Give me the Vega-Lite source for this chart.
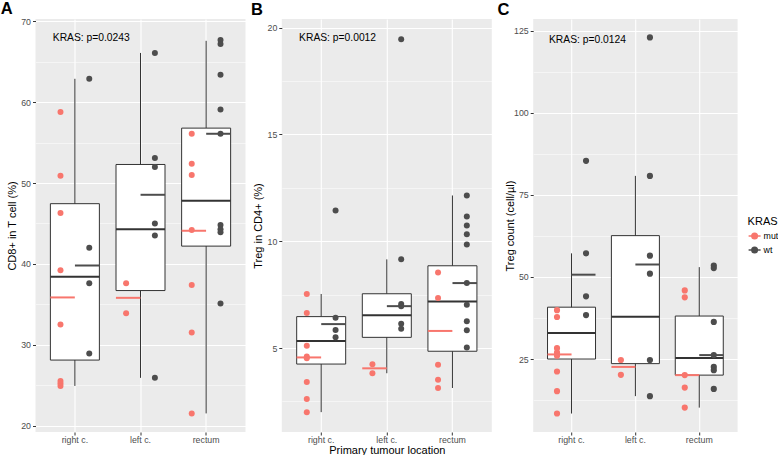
{
  "$schema": "https://vega.github.io/schema/vega-lite/v6.json",
  "padding": {"left": 0.5, "top": 0, "right": 0, "bottom": 0},
  "background": "white",
  "datasets": {
    "pts": [
      {"p":"A","loc":"right c.","KRAS":"mut","v":58.8},{"p":"A","loc":"right c.","KRAS":"mut","v":50.9},{"p":"A","loc":"right c.","KRAS":"mut","v":46.3},{"p":"A","loc":"right c.","KRAS":"mut","v":39.2},{"p":"A","loc":"right c.","KRAS":"mut","v":32.5},{"p":"A","loc":"right c.","KRAS":"mut","v":25.5},{"p":"A","loc":"right c.","KRAS":"mut","v":25.2},{"p":"A","loc":"right c.","KRAS":"mut","v":24.9},
      {"p":"A","loc":"right c.","KRAS":"wt","v":62.9},{"p":"A","loc":"right c.","KRAS":"wt","v":42.0},{"p":"A","loc":"right c.","KRAS":"wt","v":37.6},{"p":"A","loc":"right c.","KRAS":"wt","v":28.9},
      {"p":"A","loc":"left c.","KRAS":"mut","v":37.6},{"p":"A","loc":"left c.","KRAS":"mut","v":33.9},
      {"p":"A","loc":"left c.","KRAS":"wt","v":66.1},{"p":"A","loc":"left c.","KRAS":"wt","v":53.1},{"p":"A","loc":"left c.","KRAS":"wt","v":52.0},{"p":"A","loc":"left c.","KRAS":"wt","v":45.0},{"p":"A","loc":"left c.","KRAS":"wt","v":43.5},{"p":"A","loc":"left c.","KRAS":"wt","v":25.9},
      {"p":"A","loc":"rectum","KRAS":"mut","v":56.1},{"p":"A","loc":"rectum","KRAS":"mut","v":52.4},{"p":"A","loc":"rectum","KRAS":"mut","v":51.0},{"p":"A","loc":"rectum","KRAS":"mut","v":44.2},{"p":"A","loc":"rectum","KRAS":"mut","v":37.4},{"p":"A","loc":"rectum","KRAS":"mut","v":31.5},{"p":"A","loc":"rectum","KRAS":"mut","v":21.5},
      {"p":"A","loc":"rectum","KRAS":"wt","v":67.7},{"p":"A","loc":"rectum","KRAS":"wt","v":67.2},{"p":"A","loc":"rectum","KRAS":"wt","v":63.4},{"p":"A","loc":"rectum","KRAS":"wt","v":59.1},{"p":"A","loc":"rectum","KRAS":"wt","v":56.1},{"p":"A","loc":"rectum","KRAS":"wt","v":44.8},{"p":"A","loc":"rectum","KRAS":"wt","v":44.3},{"p":"A","loc":"rectum","KRAS":"wt","v":43.9},{"p":"A","loc":"rectum","KRAS":"wt","v":35.1},
      {"p":"B","loc":"right c.","KRAS":"mut","v":7.53},{"p":"B","loc":"right c.","KRAS":"mut","v":6.64},{"p":"B","loc":"right c.","KRAS":"mut","v":5.11},{"p":"B","loc":"right c.","KRAS":"mut","v":4.6},{"p":"B","loc":"right c.","KRAS":"mut","v":4.52},{"p":"B","loc":"right c.","KRAS":"mut","v":3.41},{"p":"B","loc":"right c.","KRAS":"mut","v":2.61},{"p":"B","loc":"right c.","KRAS":"mut","v":2.0},
      {"p":"B","loc":"right c.","KRAS":"wt","v":11.44},{"p":"B","loc":"right c.","KRAS":"wt","v":6.42},{"p":"B","loc":"right c.","KRAS":"wt","v":5.84},{"p":"B","loc":"right c.","KRAS":"wt","v":5.51},
      {"p":"B","loc":"left c.","KRAS":"mut","v":4.24},{"p":"B","loc":"left c.","KRAS":"mut","v":3.82},
      {"p":"B","loc":"left c.","KRAS":"wt","v":19.45},{"p":"B","loc":"left c.","KRAS":"wt","v":9.15},{"p":"B","loc":"left c.","KRAS":"wt","v":7.06},{"p":"B","loc":"left c.","KRAS":"wt","v":6.95},{"p":"B","loc":"left c.","KRAS":"wt","v":6.14},{"p":"B","loc":"left c.","KRAS":"wt","v":5.9},
      {"p":"B","loc":"rectum","KRAS":"mut","v":8.54},{"p":"B","loc":"rectum","KRAS":"mut","v":7.34},{"p":"B","loc":"rectum","KRAS":"mut","v":4.22},{"p":"B","loc":"rectum","KRAS":"mut","v":3.52},{"p":"B","loc":"rectum","KRAS":"mut","v":3.13},
      {"p":"B","loc":"rectum","KRAS":"wt","v":12.14},{"p":"B","loc":"rectum","KRAS":"wt","v":11.16},{"p":"B","loc":"rectum","KRAS":"wt","v":10.74},{"p":"B","loc":"rectum","KRAS":"wt","v":10.33},{"p":"B","loc":"rectum","KRAS":"wt","v":9.84},{"p":"B","loc":"rectum","KRAS":"wt","v":8.04},{"p":"B","loc":"rectum","KRAS":"wt","v":7.03},{"p":"B","loc":"rectum","KRAS":"wt","v":6.25},{"p":"B","loc":"rectum","KRAS":"wt","v":5.83},{"p":"B","loc":"rectum","KRAS":"wt","v":5.02},
      {"p":"C","loc":"right c.","KRAS":"mut","v":39.9},{"p":"C","loc":"right c.","KRAS":"mut","v":37.8},{"p":"C","loc":"right c.","KRAS":"mut","v":28.3},{"p":"C","loc":"right c.","KRAS":"mut","v":27.0},{"p":"C","loc":"right c.","KRAS":"mut","v":26.0},{"p":"C","loc":"right c.","KRAS":"mut","v":21.2},{"p":"C","loc":"right c.","KRAS":"mut","v":15.2},{"p":"C","loc":"right c.","KRAS":"mut","v":8.4},
      {"p":"C","loc":"right c.","KRAS":"wt","v":85.4},{"p":"C","loc":"right c.","KRAS":"wt","v":57.2},{"p":"C","loc":"right c.","KRAS":"wt","v":44.1},{"p":"C","loc":"right c.","KRAS":"wt","v":38.4},
      {"p":"C","loc":"left c.","KRAS":"mut","v":24.7},{"p":"C","loc":"left c.","KRAS":"mut","v":20.2},
      {"p":"C","loc":"left c.","KRAS":"wt","v":123.0},{"p":"C","loc":"left c.","KRAS":"wt","v":80.8},{"p":"C","loc":"left c.","KRAS":"wt","v":56.5},{"p":"C","loc":"left c.","KRAS":"wt","v":51.0},{"p":"C","loc":"left c.","KRAS":"wt","v":24.7},{"p":"C","loc":"left c.","KRAS":"wt","v":13.7},
      {"p":"C","loc":"rectum","KRAS":"mut","v":45.9},{"p":"C","loc":"rectum","KRAS":"mut","v":43.8},{"p":"C","loc":"rectum","KRAS":"mut","v":20.1},{"p":"C","loc":"rectum","KRAS":"mut","v":16.3},{"p":"C","loc":"rectum","KRAS":"mut","v":10.2},
      {"p":"C","loc":"rectum","KRAS":"wt","v":53.5},{"p":"C","loc":"rectum","KRAS":"wt","v":52.7},{"p":"C","loc":"rectum","KRAS":"wt","v":36.3},{"p":"C","loc":"rectum","KRAS":"wt","v":26.2},{"p":"C","loc":"rectum","KRAS":"wt","v":22.6},{"p":"C","loc":"rectum","KRAS":"wt","v":21.6},{"p":"C","loc":"rectum","KRAS":"wt","v":15.9}
    ],
    "box": [
      {"p":"A","loc":"right c.","lower":24.9,"q1":28.1,"median":38.4,"q3":47.45,"upper":62.9},
      {"p":"A","loc":"left c.","lower":25.9,"q1":36.7,"median":44.3,"q3":52.3,"upper":66.1},
      {"p":"A","loc":"rectum","lower":21.5,"q1":42.2,"median":47.8,"q3":56.8,"upper":67.6},
      {"p":"B","loc":"right c.","lower":2.0,"q1":4.25,"median":5.33,"q3":6.47,"upper":7.53},
      {"p":"B","loc":"left c.","lower":3.82,"q1":5.5,"median":6.53,"q3":7.54,"upper":9.15},
      {"p":"B","loc":"rectum","lower":3.13,"q1":4.85,"median":7.18,"q3":8.85,"upper":12.14},
      {"p":"C","loc":"right c.","lower":8.4,"q1":25.0,"median":32.9,"q3":40.8,"upper":57.2},
      {"p":"C","loc":"left c.","lower":13.7,"q1":23.6,"median":37.9,"q3":62.6,"upper":80.8},
      {"p":"C","loc":"rectum","lower":10.2,"q1":20.1,"median":25.3,"q3":38.1,"upper":53.0}
    ],
    "med": [
      {"p":"A","loc":"right c.","KRAS":"mut","m":35.85},{"p":"A","loc":"right c.","KRAS":"wt","m":39.8},
      {"p":"A","loc":"left c.","KRAS":"mut","m":35.8},{"p":"A","loc":"left c.","KRAS":"wt","m":48.55},
      {"p":"A","loc":"rectum","KRAS":"mut","m":44.1},{"p":"A","loc":"rectum","KRAS":"wt","m":56.1},
      {"p":"B","loc":"right c.","KRAS":"mut","m":4.56},{"p":"B","loc":"right c.","KRAS":"wt","m":6.12},
      {"p":"B","loc":"left c.","KRAS":"mut","m":4.05},{"p":"B","loc":"left c.","KRAS":"wt","m":6.96},
      {"p":"B","loc":"rectum","KRAS":"mut","m":5.8},{"p":"B","loc":"rectum","KRAS":"wt","m":8.04},
      {"p":"C","loc":"right c.","KRAS":"mut","m":26.4},{"p":"C","loc":"right c.","KRAS":"wt","m":50.7},
      {"p":"C","loc":"left c.","KRAS":"mut","m":22.6},{"p":"C","loc":"left c.","KRAS":"wt","m":53.8},
      {"p":"C","loc":"rectum","KRAS":"mut","m":20.1},{"p":"C","loc":"rectum","KRAS":"wt","m":26.2}
    ],
    "ann": [
      {"p":"A","loc":"right c.","v":68.0,"label":"KRAS: p=0.0243"},
      {"p":"B","loc":"right c.","v":19.53,"label":"KRAS: p=0.0012"},
      {"p":"C","loc":"right c.","v":122.3,"label":"KRAS: p=0.0124"}
    ]
  },
  "hconcat": [
    {
      "hconcat": [
        {
          "width": 210, "height": 413,
          "title": {"text": "A", "dx": -5.7},
          "layer": [
            {"data": {"name": "box"}, "transform": [{"filter": "datum.p === 'A'"}],
             "mark": {"type": "rule", "color": "#333333", "strokeWidth": 1},
             "encoding": {
               "x": {"field": "loc", "type": "nominal", "scale": {"domain": ["right c.", "left c.", "rectum"], "paddingInner": 0, "paddingOuter": 0.1}, "axis": {"grid": true, "gridWidth": 1.1, "bandPosition": 0.5, "labelAngle": 0, "labelPadding": 0.5}, "title": null},
               "y": {"field": "lower", "type": "quantitative", "scale": {"domain": [19.2, 70.3], "nice": false, "zero": false},
                     "axis": {"values": [20,25,30,35,40,45,50,55,60,65,70], "labelExpr": "datum.value % 10 === 0 ? datum.label : ''",
                              "tickOpacity": {"condition": {"test": "datum.value % 10 === 0", "value": 1}, "value": 0},
                              "gridWidth": {"condition": {"test": "datum.value % 10 === 0", "value": 1.1}, "value": 0.5},
                              "labelOverlap": false, "labelFlush": false},
                     "title": "CD8+ in T cell (%)"},
               "y2": {"field": "upper"}
             }},
            {"data": {"name": "box"}, "transform": [{"filter": "datum.p === 'A'"}],
             "mark": {"type": "bar", "fill": "white", "stroke": "#333333", "strokeWidth": 1, "size": 49},
             "encoding": {"x": {"field": "loc", "type": "nominal", "title": null}, "y": {"field": "q1", "type": "quantitative", "title": "CD8+ in T cell (%)"}, "y2": {"field": "q3"}}},
            {"data": {"name": "box"}, "transform": [{"filter": "datum.p === 'A'"}],
             "mark": {"type": "tick", "color": "#333333", "thickness": 2, "size": 49, "opacity": 1},
             "encoding": {"x": {"field": "loc", "type": "nominal", "title": null}, "y": {"field": "median", "type": "quantitative", "title": "CD8+ in T cell (%)"}}},
            {"data": {"name": "pts"}, "transform": [{"filter": "datum.p === 'A'"}],
             "mark": {"type": "circle", "size": 36, "opacity": 1},
             "encoding": {"x": {"field": "loc", "type": "nominal", "title": null},
               "xOffset": {"field": "KRAS", "type": "nominal", "scale": {"domain": ["mut", "wt"], "paddingInner": 0, "paddingOuter": 0.64}},
               "y": {"field": "v", "type": "quantitative", "title": "CD8+ in T cell (%)"},
               "color": {"field": "KRAS", "type": "nominal", "scale": {"domain": ["mut", "wt"], "range": ["#F8766D", "#4D4D4D"]}, "legend": null}}},
            {"data": {"name": "med"}, "transform": [{"filter": "datum.p === 'A'"}],
             "mark": {"type": "tick", "thickness": 2, "size": 24.5, "opacity": 1},
             "encoding": {"x": {"field": "loc", "type": "nominal", "title": null},
               "xOffset": {"field": "KRAS", "type": "nominal", "scale": {"domain": ["mut", "wt"], "paddingInner": 0, "paddingOuter": 0.333}},
               "y": {"field": "m", "type": "quantitative", "title": "CD8+ in T cell (%)"},
               "color": {"field": "KRAS", "type": "nominal", "legend": null}}},
            {"data": {"name": "ann"}, "transform": [{"filter": "datum.p === 'A'"}],
             "mark": {"type": "text", "fontSize": 10.3, "font": "Liberation Sans", "color": "#000000", "align": "center", "baseline": "middle"},
             "encoding": {"x": {"field": "loc", "type": "nominal", "bandPosition": 0.75, "title": null}, "y": {"field": "v", "type": "quantitative", "title": "CD8+ in T cell (%)"}, "text": {"field": "label"}}}
          ],
          "resolve": {"scale": {"xOffset": "independent"}}
        },
        {
          "width": 210, "height": 413,
          "title": {"text": "B", "dx": -1.8},
          "layer": [
            {"data": {"name": "box"}, "transform": [{"filter": "datum.p === 'B'"}],
             "mark": {"type": "rule", "color": "#333333", "strokeWidth": 1},
             "encoding": {
               "x": {"field": "loc", "type": "nominal", "scale": {"domain": ["right c.", "left c.", "rectum"], "paddingInner": 0, "paddingOuter": 0.1}, "axis": {"grid": true, "gridWidth": 1.1, "bandPosition": 0.5, "labelAngle": 0, "labelPadding": 0.5, "titlePadding": 0}, "title": "Primary tumour location"},
               "y": {"field": "lower", "type": "quantitative", "scale": {"domain": [1.07, 20.4], "nice": false, "zero": false},
                     "axis": {"values": [2.5,5,7.5,10,12.5,15,17.5,20], "labelExpr": "datum.value % 5 === 0 ? datum.label : ''",
                              "tickOpacity": {"condition": {"test": "datum.value % 5 === 0", "value": 1}, "value": 0},
                              "gridWidth": {"condition": {"test": "datum.value % 5 === 0", "value": 1.1}, "value": 0.5},
                              "labelOverlap": false, "labelFlush": false},
                     "title": "Treg in CD4+ (%)"},
               "y2": {"field": "upper"}
             }},
            {"data": {"name": "box"}, "transform": [{"filter": "datum.p === 'B'"}],
             "mark": {"type": "bar", "fill": "white", "stroke": "#333333", "strokeWidth": 1, "size": 49},
             "encoding": {"x": {"field": "loc", "type": "nominal", "title": "Primary tumour location"}, "y": {"field": "q1", "type": "quantitative", "title": "Treg in CD4+ (%)"}, "y2": {"field": "q3"}}},
            {"data": {"name": "box"}, "transform": [{"filter": "datum.p === 'B'"}],
             "mark": {"type": "tick", "color": "#333333", "thickness": 2, "size": 49, "opacity": 1},
             "encoding": {"x": {"field": "loc", "type": "nominal", "title": "Primary tumour location"}, "y": {"field": "median", "type": "quantitative", "title": "Treg in CD4+ (%)"}}},
            {"data": {"name": "pts"}, "transform": [{"filter": "datum.p === 'B'"}],
             "mark": {"type": "circle", "size": 36, "opacity": 1},
             "encoding": {"x": {"field": "loc", "type": "nominal", "title": "Primary tumour location"},
               "xOffset": {"field": "KRAS", "type": "nominal", "scale": {"domain": ["mut", "wt"], "paddingInner": 0, "paddingOuter": 0.64}},
               "y": {"field": "v", "type": "quantitative", "title": "Treg in CD4+ (%)"},
               "color": {"field": "KRAS", "type": "nominal", "scale": {"domain": ["mut", "wt"], "range": ["#F8766D", "#4D4D4D"]}, "legend": null}}},
            {"data": {"name": "med"}, "transform": [{"filter": "datum.p === 'B'"}],
             "mark": {"type": "tick", "thickness": 2, "size": 24.5, "opacity": 1},
             "encoding": {"x": {"field": "loc", "type": "nominal", "title": "Primary tumour location"},
               "xOffset": {"field": "KRAS", "type": "nominal", "scale": {"domain": ["mut", "wt"], "paddingInner": 0, "paddingOuter": 0.333}},
               "y": {"field": "m", "type": "quantitative", "title": "Treg in CD4+ (%)"},
               "color": {"field": "KRAS", "type": "nominal", "legend": null}}},
            {"data": {"name": "ann"}, "transform": [{"filter": "datum.p === 'B'"}],
             "mark": {"type": "text", "fontSize": 10.3, "font": "Liberation Sans", "color": "#000000", "align": "center", "baseline": "middle"},
             "encoding": {"x": {"field": "loc", "type": "nominal", "bandPosition": 0.75, "title": "Primary tumour location"}, "y": {"field": "v", "type": "quantitative", "title": "Treg in CD4+ (%)"}, "text": {"field": "label"}}}
          ],
          "resolve": {"scale": {"xOffset": "independent"}}
        }
      ],
      "spacing": 5.3,
      "resolve": {"scale": {"x": "independent", "y": "independent", "color": "independent", "xOffset": "independent"}, "legend": {"color": "independent"}}
    },
    {
      "width": 204.4, "height": 413,
      "title": {"text": "C", "dx": -6.8},
      "layer": [
        {"data": {"name": "box"}, "transform": [{"filter": "datum.p === 'C'"}],
         "mark": {"type": "rule", "color": "#333333", "strokeWidth": 1},
         "encoding": {
           "x": {"field": "loc", "type": "nominal", "scale": {"domain": ["right c.", "left c.", "rectum"], "paddingInner": 0, "paddingOuter": 0.1}, "axis": {"grid": true, "gridWidth": 1.1, "bandPosition": 0.5, "labelAngle": 0, "labelPadding": 0.5}, "title": null},
           "y": {"field": "lower", "type": "quantitative", "scale": {"domain": [2.77, 128.6], "nice": false, "zero": false},
                 "axis": {"values": [12.5,25,37.5,50,62.5,75,87.5,100,112.5,125], "labelExpr": "datum.value % 25 === 0 ? datum.label : ''",
                          "tickOpacity": {"condition": {"test": "datum.value % 25 === 0", "value": 1}, "value": 0},
                          "gridWidth": {"condition": {"test": "datum.value % 25 === 0", "value": 1.1}, "value": 0.5},
                          "labelOverlap": false, "labelFlush": false},
                 "title": "Treg count (cell/µl)"},
           "y2": {"field": "upper"}
         }},
        {"data": {"name": "box"}, "transform": [{"filter": "datum.p === 'C'"}],
         "mark": {"type": "bar", "fill": "white", "stroke": "#333333", "strokeWidth": 1, "size": 48},
         "encoding": {"x": {"field": "loc", "type": "nominal", "title": null}, "y": {"field": "q1", "type": "quantitative", "title": "Treg count (cell/µl)"}, "y2": {"field": "q3"}}},
        {"data": {"name": "box"}, "transform": [{"filter": "datum.p === 'C'"}],
         "mark": {"type": "tick", "color": "#333333", "thickness": 2, "size": 48, "opacity": 1},
         "encoding": {"x": {"field": "loc", "type": "nominal", "title": null}, "y": {"field": "median", "type": "quantitative", "title": "Treg count (cell/µl)"}}},
        {"data": {"name": "pts"}, "transform": [{"filter": "datum.p === 'C'"}],
         "mark": {"type": "circle", "size": 22, "opacity": 1, "strokeWidth": 1.5},
         "encoding": {"x": {"field": "loc", "type": "nominal", "title": null},
           "xOffset": {"field": "KRAS", "type": "nominal", "scale": {"domain": ["mut", "wt"], "paddingInner": 0, "paddingOuter": 0.6}},
           "y": {"field": "v", "type": "quantitative", "title": "Treg count (cell/µl)"},
           "color": {"field": "KRAS", "type": "nominal", "scale": {"domain": ["mut", "wt"], "range": ["#F8766D", "#4D4D4D"]},
             "legend": {"orient": "none", "legendX": 214.4, "legendY": 197, "title": "KRAS", "titleFontSize": 11, "titleFontWeight": "normal", "titleColor": "#000000", "titleFont": "Liberation Sans", "labelFontSize": 8.8, "labelColor": "#000000", "labelFont": "Liberation Sans", "symbolType": "M -1 0 L 1 0 M 0.46 0 A 0.46 0.46 0 1 1 -0.46 0 A 0.46 0.46 0 1 1 0.46 0 Z", "symbolSize": 144, "rowPadding": 1, "titlePadding": 2, "padding": 0, "labelOffset": 2}},
           "stroke": {"field": "KRAS", "type": "nominal", "scale": {"domain": ["mut", "wt"], "range": ["#F8766D", "#4D4D4D"]},
             "legend": {"orient": "none", "legendX": 214.4, "legendY": 197, "title": "KRAS", "titleFontSize": 11, "titleFontWeight": "normal", "titleColor": "#000000", "titleFont": "Liberation Sans", "labelFontSize": 8.8, "labelColor": "#000000", "labelFont": "Liberation Sans", "symbolType": "M -1 0 L 1 0 M 0.46 0 A 0.46 0.46 0 1 1 -0.46 0 A 0.46 0.46 0 1 1 0.46 0 Z", "symbolSize": 144, "rowPadding": 1, "titlePadding": 2, "padding": 0, "labelOffset": 2}}}},
        {"data": {"name": "med"}, "transform": [{"filter": "datum.p === 'C'"}],
         "mark": {"type": "tick", "thickness": 2, "size": 24, "opacity": 1},
         "encoding": {"x": {"field": "loc", "type": "nominal", "title": null},
           "xOffset": {"field": "KRAS", "type": "nominal", "scale": {"domain": ["mut", "wt"], "paddingInner": 0, "paddingOuter": 0.333}},
           "y": {"field": "m", "type": "quantitative", "title": "Treg count (cell/µl)"},
           "color": {"field": "KRAS", "type": "nominal", "legend": null}}},
        {"data": {"name": "ann"}, "transform": [{"filter": "datum.p === 'C'"}],
         "mark": {"type": "text", "fontSize": 10.3, "font": "Liberation Sans", "color": "#000000", "align": "center", "baseline": "middle"},
         "encoding": {"x": {"field": "loc", "type": "nominal", "bandPosition": 0.75, "title": null}, "y": {"field": "v", "type": "quantitative", "title": "Treg count (cell/µl)"}, "text": {"field": "label"}}}
      ],
      "resolve": {"scale": {"xOffset": "independent"}}
    }
  ],
  "spacing": 4.7,
  "resolve": {"scale": {"x": "independent", "y": "independent", "color": "independent", "stroke": "independent", "xOffset": "independent"}, "legend": {"color": "independent", "stroke": "independent"}},
  "config": {
    "view": {"fill": "#EBEBEB", "stroke": null},
    "font": "Liberation Sans",
    "title": {"anchor": "start", "frame": "bounds", "fontSize": 16.5, "fontWeight": "bold", "font": "Liberation Sans", "color": "#000000", "offset": 0.1},
    "axis": {"domain": false, "tickColor": "#333333", "tickSize": 3, "labelColor": "#4D4D4D", "labelFontSize": 8.8, "labelFont": "Liberation Sans", "titleFont": "Liberation Sans", "titleFontSize": 11, "titleFontWeight": "normal", "titleColor": "#000000", "gridColor": "#FFFFFF", "labelPadding": 2},
    "axisY": {"minExtent": 16, "maxExtent": 16, "titlePadding": 2},
    "axisX": {"titlePadding": 0}
  }
}
